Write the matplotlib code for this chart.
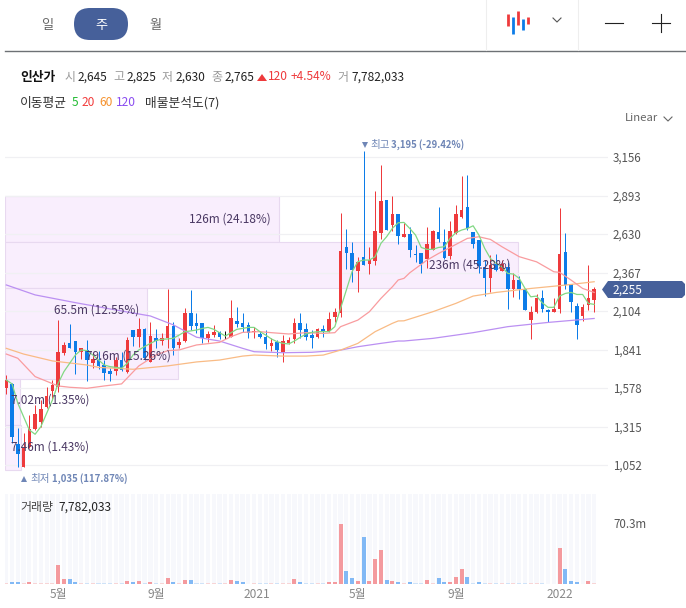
import matplotlib
matplotlib.use("Agg")
import matplotlib.pyplot as plt
from matplotlib.patches import FancyBboxPatch, Polygon
import numpy as np

plt.rcParams['font.family'] = ['Noto Sans CJK KR', 'DejaVu Sans']

W, H = 686, 608

# weekly candles (price)
opens = [1576,1606,1196,1041,1177,1298,1344,1451,1560,1587,1820,1888,1899,1826,1838,1751,1770,1735,1697,1697,1770,1690,1974,1929,1981,1758,1918,1899,1918,2002,1872,1899,2088,2020,
 2020,1917,1940,1958,1930,1929,2036,2022,2008,1958,1947,1929,1865,1894,1822,1883,1913,2022,1979,1940,1929,1981,1967,2065,2092,2539,2500,2379,2470,2425,2448,2639,2862,2691,2767,
 2609,2630,2491,2497,2456,2520,2645,2575,2479,2639,2743,2814,2645,2589,2406,2331,2425,2379,2406,2251,2315,2251,2042,2097,2192,2110,2097,2115,2507,2288,2140,2069,2142,2179]
highs = [1667,1610,1303,1269,1394,1462,1496,1587,1633,2043,1895,2013,1899,1854,1906,1815,1833,1770,1713,1792,1826,1929,1974,2054,1986,2031,1981,1952,2252,2031,1918,2122,2248,2088,
 2020,1970,2008,1970,1970,2179,2129,2088,2031,1992,1970,1974,1917,1906,1940,1924,2054,2088,2020,1974,1985,2008,2095,2127,2771,2664,2578,2470,3195,2539,2924,3101,2862,2889,2767,
 2702,2680,2554,2497,2680,2657,2816,2661,2718,2828,3026,3033,2645,2589,2452,2486,2493,2452,2440,2361,2343,2251,2140,2217,2247,2115,2190,2809,2634,2288,2156,2151,2418,2270]
lows = [1537,1200,1040,1035,1166,1291,1314,1439,1496,1553,1804,1854,1674,1774,1628,1713,1706,1633,1626,1667,1697,1683,1865,1861,1770,1754,1849,1872,1849,1804,1849,1895,1974,1952,
 1883,1894,1929,1910,1910,1924,1992,1963,1922,1922,1917,1844,1833,1792,1756,1879,1883,1917,1906,1849,1922,1929,1963,2031,2065,2389,2304,2231,2418,2354,2418,2596,2657,2650,2559,
 2609,2475,2440,2365,2395,2520,2577,2459,2459,2630,2737,2657,2532,2361,2206,2231,2377,2377,2117,2201,2183,2110,1910,2088,2094,2031,2094,2092,2251,2099,1912,2035,2110,2094]
closes = [1633,1246,1127,1166,1298,1401,1435,1524,1599,1822,1872,1854,1822,1849,1770,1774,1729,1683,1674,1770,1701,1906,1929,1979,1781,1933,1899,1918,2002,1849,1895,2088,2002,2002,
 1917,1947,1963,1929,1930,2056,2015,1997,1951,1967,1929,1879,1883,1837,1899,1906,2020,1974,1929,1919,1979,1958,2047,2097,2514,2502,2384,2439,2418,2452,2650,2855,2657,2767,2616,
 2630,2520,2484,2425,2561,2650,2593,2463,2650,2764,2793,2668,2561,2411,2331,2418,2384,2425,2251,2315,2251,2110,2097,2195,2119,2094,2115,2493,2281,2167,2008,2131,2190,2251]
doji_black = [38]

# moving averages
ma5 = [1633,1606,1474,1382,1291,1262,1314,1405,1496,1610,1690,1747,1804,1838,1833,1804,1770,1735,1724,1719,1713,1747,1804,1838,1861,1883,1902,1911,1913,1918,1940,1963,1968,1974,
 1985,1992,1979,1956,1933,1956,1979,1985,1992,1992,1963,1940,1913,1894,1883,1879,1899,1924,1947,1958,1963,1963,1963,1997,2122,2247,2373,2441,2452,2452,2475,2566,2612,2669,2707,
 2709,2668,2623,2538,2525,2525,2538,2543,2600,2639,2657,2668,2686,2623,2532,2463,2429,2406,2361,2356,2327,2258,2201,2206,2160,2129,2129,2206,2224,2231,2217,2217,2156,2149]
ma20_x = [0,2,5,9,11,14,17,20,23,26,28,30,32,33,37,39,41,44,46,49,52,55,57,58,61,63,65,67,68,69,70,73,75,77,80,82,84,86,89,92,94,95,96,98,100,102]
ma20 = [1810,1781,1656,1592,1583,1576,1592,1606,1729,1804,1833,1838,1861,1872,1890,1929,1958,1963,1956,1947,1956,1951,1956,1997,2042,2099,2190,2270,2316,2327,2365,2452,2497,2538,2600,2611,2593,2543,2475,2440,2395,2372,2368,2315,2258,2231]
ma60_x = [0,3,8,14,16,22,28,33,37,41,43,48,52,55,58,61,64,67,68,69,74,78,81,85,91,97,102]
ma60 = [1849,1810,1763,1735,1719,1706,1729,1756,1769,1796,1803,1796,1796,1803,1837,1883,1963,2020,2036,2037,2099,2156,2206,2231,2258,2281,2304]
ma120_x = [0,5,12,20,25,29,33,37,41,43,48,53,58,61,65,68,69,74,81,87,94,102]
ma120 = [2282,2214,2161,2104,2070,2009,1925,1899,1849,1826,1819,1822,1837,1860,1883,1899,1899,1917,1956,1997,2026,2053]

# volume (millions)
volume = [.6,2,2,.6,2,.6,.6,.6,.6,21.5,5.4,5.8,2,.6,.6,.6,.6,.6,.6,.6,.6,3,2,3,.6,2,.6,.6,6.5,2,.6,4.2,4.2,
 .6,.6,.6,.6,.6,.6,4.2,3,2,0,.6,.6,.6,.6,.6,.6,.6,5.4,2,.6,.6,.6,.6,2,2,68.7,14.6,6.5,3,54.5,3,28.4,38.8,4.2,3,2,
 .6,2,.6,.6,4.2,.6,6.5,2,2,7.7,16.9,7.7,.6,2,.6,.6,.6,.6,.6,.6,.6,.6,.6,.6,.6,0,0,41,16.9,3,2,0,3,.8]

# volume profile
profile_edges = [2890,2575,2261,1947,1640,1325,1018]
profile_vol = [126,236,65.5,79.6,7.02,7.46]
profile_labels = ['126m (24.18%)','236m (45.28%)','65.5m (12.55%)','79.6m (15.26%)','7.02m (1.35%)','7.46m (1.43%)']

price_ticks = [3156,2893,2630,2367,2104,1841,1578,1315,1052]
x_ticks = [9,26,43.5,61,78,96]
x_labels = ['5월','9월','2021','5월','9월','2022']

RED, BLUE = '#ee3a3c', '#0c7ce8'
n = len(opens)
assert all(len(a) == n for a in (highs, lows, closes, ma5, volume)), (n, len(highs), len(lows), len(closes), len(ma5), len(volume))

fig = plt.figure(figsize=(W/100, H/100), dpi=100, facecolor='white')

def axes_px(x0, y0, x1, y1, **kw):
    return fig.add_axes([x0/W, 1-y1/H, (x1-x0)/W, (y1-y0)/H], **kw)

xlim = (-0.225, 104.4)
ylim = (3156-(490-157)*6.831, 3156+(157-130)*6.831)

ax_prof = axes_px(5, 130, 608, 490, zorder=0)
ax_prof.set_xlim(0, 277.4); ax_prof.set_ylim(*ylim); ax_prof.axis('off')
for i, v in enumerate(profile_vol):
    ax_prof.barh(profile_edges[i+1], v, height=profile_edges[i]-profile_edges[i+1], align='edge',
                 color='#f9eefd', edgecolor='#e8d9f0', linewidth=0.8)

ax = axes_px(5, 130, 608, 490, zorder=1)
ax.patch.set_alpha(0)
ax.set_xlim(*xlim); ax.set_ylim(*ylim)
for s in ax.spines.values():
    s.set_visible(False)
ax.set_xticks([])
ax.yaxis.tick_right()
ax.set_yticks(price_ticks)
ax.set_yticklabels([f'{p:,}' for p in price_ticks], fontsize=8.3, color='#555555')
ax.tick_params(axis='y', length=0, pad=3.6)
ax.grid(axis='y', color='#f0f0f3', linewidth=0.9)
ax.set_axisbelow(True)

idx = np.arange(n)
o, h, l, c = map(np.array, (opens, highs, lows, closes))
colors = [RED if c[i] > o[i] else BLUE for i in idx]
for i in doji_black:
    colors[i] = '#111111'
ax.vlines(idx, l, h, colors=colors, linewidth=0.72, zorder=3)
ax.bar(idx, np.maximum(np.abs(c-o), 6), bottom=np.minimum(o, c), width=0.62, color=colors, linewidth=0, zorder=3)

ax.plot(ma120_x, ma120, color='#bb90f2', lw=0.9, zorder=4)
ax.plot(ma60_x, ma60, color='#f9bb85', lw=0.9, zorder=4)
ax.plot(ma20_x, ma20, color='#f99c9f', lw=0.9, zorder=4)
ax.plot(idx, ma5, color='#82d884', lw=0.9, zorder=4)

# volume
ax_v = axes_px(5, 494, 608, 584, zorder=1)
ax_v.set_xlim(*xlim)
ax_v.set_ylim(0, 90*1.152)
for s in ax_v.spines.values():
    s.set_visible(False)
ax_v.bar(idx, 90*1.152, width=0.74, color='#f7f8fc', linewidth=0, zorder=1)
v_colors = [('#f49a9e' if c[i] >= o[i] else '#82b9f5') if volume[i] >= 1 else
            ('#f8d5d6' if c[i] >= o[i] else '#cfe3f8') for i in idx]
ax_v.bar(idx, volume, width=0.7, color=v_colors, linewidth=0, zorder=2)
ax_v.set_xticks(x_ticks)
ax_v.set_xticklabels(x_labels, fontsize=8.6, color='#888888')
ax_v.tick_params(axis='x', length=0, pad=3)
ax_v.yaxis.tick_right()
ax_v.set_yticks([70.3])
ax_v.set_yticklabels(['70.3m'], fontsize=8.3, color='#555555')
ax_v.tick_params(axis='y', length=0, pad=3.6)

# overlay in pixel units for the page chrome
ov = fig.add_axes([0, 0, 1, 1], zorder=5)
ov.set_xlim(0, W); ov.set_ylim(H, 0); ov.axis('off'); ov.patch.set_alpha(0)

def t(x, y, s, size=8.6, color='#222222', weight='normal', ha='left'):
    ov.text(x, y, s, fontsize=size, color=color, fontweight=weight, ha=ha, va='center')

# tabs
ov.add_patch(FancyBboxPatch((74, 8), 54, 32, boxstyle='round,pad=0,rounding_size=16',
                            facecolor='#46609a', edgecolor='none'))
t(47, 25, '일', 9.5, '#666666', ha='center')
t(101, 25, '주', 9.5, 'white', ha='center')
t(155, 25, '월', 9.5, '#666666', ha='center')
ov.plot([5, 686], [50.5, 50.5], color='#6d7175', lw=1.0)
ov.plot([486, 486], [0, 50], color='#eeeeee', lw=0.8)
ov.plot([578, 578], [0, 50], color='#eeeeee', lw=0.8)
for xx, y0, y1, col in [(508, 14, 26, RED), (513, 17, 34, BLUE), (518, 11, 25, RED), (523, 19, 30, BLUE), (528, 17, 24, RED)]:
    ov.plot([xx, xx], [y0, y1], color=col, lw=2.0, solid_capstyle='butt')
ov.plot([553, 557, 561], [18, 22, 18], color='#555555', lw=0.8)
ov.plot([605, 623], [23, 23], color='#222222', lw=0.8)
ov.plot([652, 670], [23, 23], color='#222222', lw=0.8)
ov.plot([661, 661], [14, 32], color='#222222', lw=0.8)

# info row
t(20, 77, '인산가', 9.2, '#111111', 'bold')
for x, s in [(65, '시'), (113, '고'), (162, '저'), (211, '종'), (337, '거')]:
    t(x, 77, s, 8.6, '#999999')
for x, s in [(78, '2,645'), (127, '2,825'), (176, '2,630'), (225, '2,765'), (351, '7,782,033')]:
    t(x, 77, s, 8.6, '#222222', 'medium')
ov.add_patch(Polygon([(257, 81), (267, 81), (262, 74)], facecolor='#ee3a3c', edgecolor='none'))
t(268, 77, '120', 8.6, RED)
t(291, 77, '+4.54%', 8.6, RED)

# indicators row
t(20, 103, '이동평균', 9.2, '#333333')
t(72, 103, '5', 8.6, '#22bb33')
t(82, 103, '20', 8.6, '#f23c3c')
t(99, 103, '60', 8.6, '#f5922e')
t(116, 103, '120', 8.6, '#8a4cf0')
t(145, 103, '매물분석도(7)', 9.2, '#333333')
t(625, 118, 'Linear', 8.2, '#666666')
ov.plot([664, 668, 672], [117, 121, 117], color='#666666', lw=0.8)

# max / min markers
MARK = '#6f86b6'
ov.add_patch(Polygon([(362, 142), (368, 142), (365, 148)], facecolor=MARK, edgecolor='none'))
t(370, 145, '최고', 7.6, MARK)
t(391, 145, '3,195 (-29.42%)', 6.9, MARK, 'bold')
ov.add_patch(Polygon([(21, 482), (27, 482), (24, 476)], facecolor=MARK, edgecolor='none'))
t(30, 479, '최저', 7.6, MARK)
t(52, 479, '1,035 (117.87%)', 6.9, MARK, 'bold')

# profile labels
for lab, xl, y in zip(profile_labels, [189, 429, 54, 86, 11, 11], [219, 265, 310, 356, 400, 447]):
    t(xl, y, lab, 8.5, '#4a3863')

# last price tag
ov.add_patch(Polygon([(602, 289.5), (608, 281), (682, 281), (685, 284), (685, 295), (682, 298), (608, 298)],
                     facecolor='#46609a', edgecolor='none'))
t(613, 290, '2,255', 8.6, 'white')

# volume caption
t(20, 507, '거래량', 8.6, '#444444')
t(58, 507, '7,782,033', 8.6, '#222222', 'medium')

fig.savefig('out.png', dpi=100)
